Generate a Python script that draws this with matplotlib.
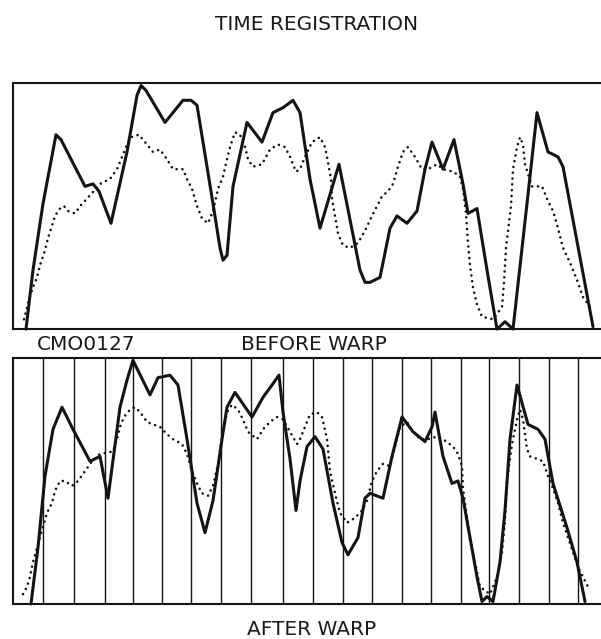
import numpy as np
import matplotlib
matplotlib.use("Agg")
import matplotlib.pyplot as plt


# =========================
# DATA
# time in samples, amplitude in % of panel height
# =========================
before_ref_t = [13, 20, 30, 43, 48, 72, 80, 86, 98, 114, 124, 128, 133, 152, 160, 170, 178,
                184, 200, 207, 210, 214, 220, 234, 249, 260, 270, 280, 287, 297, 307, 326,
                347, 352, 357, 367, 377, 384, 394, 404, 412, 419, 430, 441, 450, 455,
                464, 474, 484, 492, 500, 514, 524, 535, 545, 550, 580]
before_ref_a = [0, 24, 51, 79, 77, 58, 59, 56, 43, 72, 95, 99, 97, 84, 88, 93, 93,
                91, 51, 33, 28, 30, 58, 84, 76, 88, 90, 93, 88, 61, 41, 67,
                24, 19, 19, 21, 41, 46, 43, 48, 65, 76, 65, 77, 59, 47,
                49, 24, 0, 3, 0, 51, 88, 72, 70, 66, 1]

before_tst_t = [11, 16, 20, 24, 27, 32, 35, 39, 42, 47, 51, 55, 62, 67, 74, 87, 97,
                104, 109, 113, 118, 126, 134, 140, 147, 154, 160, 170, 174, 179, 184,
                189, 195, 200, 205, 210, 214, 217, 222, 227, 232, 235, 240, 249, 257,
                265, 272, 277, 283, 287, 292, 299, 307, 312, 314, 318, 319, 322, 325,
                330, 337, 345, 352, 359, 364, 369, 375, 380, 385, 390, 395, 402, 409,
                415, 424, 430, 440, 447, 450, 453, 455, 457, 460, 464, 469, 480, 489,
                491, 493, 498, 500, 504, 507, 510, 512, 519, 529, 535, 540, 545, 550,
                557, 564, 570, 577]
before_tst_a = [4, 12, 17, 21, 26, 32, 37, 42, 46, 49, 50, 48, 47, 50, 53, 59, 61,
                65, 70, 74, 78, 79, 75, 72, 73, 69, 65, 65, 61, 57, 50,
                45, 43, 48, 57, 62, 69, 74, 80, 79, 74, 69, 66, 67, 73,
                75, 74, 70, 64, 65, 70, 76, 78, 74, 70, 61, 53, 46, 39,
                34, 33, 35, 40, 46, 50, 54, 56, 59, 66, 72, 74, 70, 65,
                65, 67, 65, 64, 62, 57, 47, 35, 26, 17, 10, 5, 4, 9,
                19, 33, 50, 65, 74, 78, 75, 67, 58, 58, 52, 48, 41, 33,
                27, 20, 13, 9]

after_ref_t = [18, 25, 32, 40, 49, 60, 77, 87, 95, 107, 114, 120, 137, 145, 157, 165,
               174, 184, 192, 200, 209, 214, 222, 239, 250, 259, 266, 270, 277, 283,
               287, 294, 302, 310, 320, 329, 335, 345, 352, 357, 370, 379, 389, 400,
               412, 419, 422, 430, 439, 445, 450, 457, 464, 469, 474, 480, 487, 492,
               497, 504, 515, 525, 532, 540, 554, 564, 572]
after_ref_a = [0, 23, 52, 71, 80, 71, 58, 60, 43, 80, 91, 99, 85, 92, 93, 89,
               67, 41, 29, 42, 67, 80, 86, 76, 84, 89, 93, 78, 59, 38,
               50, 64, 68, 63, 41, 25, 20, 27, 43, 45, 43, 60, 76, 70,
               66, 72, 78, 60, 49, 50, 43, 27, 11, 1, 3, 1, 17, 38,
               67, 89, 73, 71, 67, 49, 31, 17, 1]

after_tst_t = [10, 14, 17, 20, 29, 34, 39, 42, 47, 52, 59, 65, 72, 79, 87, 100, 104,
               107, 111, 117, 122, 127, 134, 140, 147, 154, 160, 169, 174, 179, 184,
               189, 195, 200, 205, 210, 214, 219, 225, 230, 235, 244, 250, 257, 264,
               270, 277, 284, 287, 292, 297, 304, 309, 314, 317, 322, 327, 334, 342,
               349, 354, 359, 364, 370, 377, 382, 387, 394, 400, 407, 415, 424, 430,
               440, 445, 449, 450, 454, 457, 462, 467, 477, 484, 489, 492, 494, 499,
               504, 507, 510, 514, 517, 524, 530, 535, 540, 545, 550, 555, 560, 565,
               570, 575]
after_tst_a = [4, 7, 11, 17, 30, 37, 41, 46, 50, 50, 48, 50, 54, 58, 61, 62, 67,
               72, 76, 79, 80, 78, 74, 73, 72, 69, 67, 65, 61, 54, 49,
               45, 44, 48, 57, 70, 78, 81, 79, 75, 70, 67, 71, 74, 76,
               75, 70, 65, 67, 72, 77, 78, 76, 67, 54, 45, 37, 33, 35,
               38, 42, 50, 54, 57, 56, 64, 72, 74, 70, 67, 67, 68, 67,
               64, 61, 56, 47, 35, 26, 17, 7, 4, 11, 21, 34, 50, 65,
               75, 79, 75, 63, 60, 59, 58, 52, 47, 41, 33, 27, 21, 15,
               11, 7]

# warped time grid (after warp panel)
warp_grid_t = [30, 61, 92, 120, 149, 178, 208, 238, 270, 300, 330, 359,
               389, 418, 448, 476, 506, 536, 565]

title = "TIME REGISTRATION"
utt_id = "CMO0127"
top_label = "BEFORE WARP"
bottom_label = "AFTER WARP"


# =========================
# PLOT HELPERS
# =========================
INK = "#141414"


def setup_panel(ax):
    ax.set_xlim(0, 588)
    ax.set_ylim(0, 100)
    ax.set_xticks([])
    ax.set_yticks([])
    ax.spines["right"].set_visible(False)
    for s in ["left", "top", "bottom"]:
        ax.spines[s].set_linewidth(1.5)
        ax.spines[s].set_color(INK)


def draw_pair(ax, ref_t, ref_a, tst_t, tst_a):
    ax.plot(ref_t, ref_a, color=INK, lw=2.2, solid_joinstyle="round",
            solid_capstyle="round", clip_on=False, zorder=3)
    ax.plot(tst_t, tst_a, color=INK, lw=1.9, linestyle=(0, (0.01, 2.2)),
            dash_capstyle="round", clip_on=False, zorder=3)


# =========================
# MAKE FIGURE
# =========================
fig = plt.figure(figsize=(6.01, 6.39), dpi=100)
fig.patch.set_facecolor("white")

ax_top = fig.add_axes([13 / 601, 0.485, 1 - 13 / 601, 0.385])
ax_bot = fig.add_axes([13 / 601, 0.0548, 1 - 13 / 601, 0.385])

setup_panel(ax_top)
setup_panel(ax_bot)

draw_pair(ax_top, before_ref_t, before_ref_a, before_tst_t, before_tst_a)

for t in warp_grid_t:
    ax_bot.axvline(t, color=INK, lw=1.0, zorder=1)
draw_pair(ax_bot, after_ref_t, after_ref_a, after_tst_t, after_tst_a)

txt = dict(color="#1a1a1a", fontsize=14.5, family="DejaVu Sans")
fig.text(0.527, 0.962, title, ha="center", va="center", **txt)
fig.text(0.0616, 0.461, utt_id, ha="left", va="center", **txt)
fig.text(0.523, 0.461, top_label, ha="center", va="center", **txt)
fig.text(0.518, 0.015, bottom_label, ha="center", va="center", **txt)

fig.savefig("out.png", dpi=100, facecolor="white")
